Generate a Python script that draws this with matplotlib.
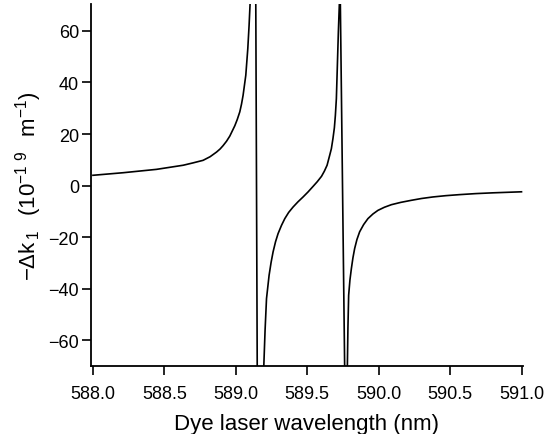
import matplotlib
matplotlib.use("Agg")
import matplotlib.pyplot as plt

# Dispersion curve across the two resonance lines (values beyond +-70 run off the plot)
wavelength_nm = [588.00, 588.212, 588.445, 588.632, 588.700, 588.771, 588.820, 588.865,
                 588.890, 588.911, 588.935, 588.958, 588.993, 589.010, 589.028, 589.040,
                 589.051, 589.070, 589.084, 589.093, 589.100,
                 589.120, 589.140, 589.150, 589.172,
                 589.196, 589.205, 589.215, 589.233, 589.247, 589.261, 589.278, 589.296,
                 589.320, 589.343, 589.370, 589.401, 589.435, 589.471, 589.505, 589.541,
                 589.570, 589.600, 589.620, 589.639, 589.657, 589.669, 589.680, 589.690,
                 589.697, 589.704, 589.711, 589.718, 589.725,
                 589.728, 589.732, 589.762, 589.772,
                 589.781, 589.785, 589.790, 589.799, 589.809, 589.820, 589.832, 589.848,
                 589.867, 589.895, 589.925, 589.960, 589.995, 590.040, 590.089, 590.155,
                 590.229, 590.300, 590.380, 590.470, 590.566, 590.680, 590.800, 590.900,
                 591.000]
delta_k = [4.0, 5.0, 6.3, 7.9, 8.8, 9.8, 11.2, 13.0,
           14.2, 15.5, 17.2, 19.2, 23.2, 25.6, 28.6, 31.6,
           35.0, 42.8, 53.1, 62.1, 70.5,
           110.0, 70.0, -70.0, -110.0,
           -70.0, -56.0, -43.8, -34.8, -29.8, -25.7, -21.8, -18.6,
           -15.4, -12.8, -10.4, -8.3, -6.3, -4.4, -2.5, -0.3,
           1.5, 3.6, 5.6, 7.9, 11.7, 14.3, 18.2, 22.4,
           27.2, 33.7, 46.6, 59.6, 70.5,
           95.0, 70.0, -70.0, -110.0,
           -70.0, -55.0, -42.5, -36.6, -32.2, -28.0, -24.4, -20.9,
           -17.9, -15.1, -12.8, -11.0, -9.6, -8.4, -7.4, -6.5,
           -5.7, -5.0, -4.4, -3.9, -3.5, -3.1, -2.8, -2.6,
           -2.4]

x_ticks = [588.0, 588.5, 589.0, 589.5, 590.0, 590.5, 591.0]
y_ticks = [-60, -40, -20, 0, 20, 40, 60]

plt.rcParams['font.family'] = ['Liberation Sans', 'DejaVu Sans']
plt.rcParams['mathtext.default'] = 'regular'

fig = plt.figure(figsize=(5.47, 4.35), dpi=100)
ax = fig.add_axes([0.166, 0.156, 0.790, 0.833])

ax.plot(wavelength_nm, delta_k, color='black', linewidth=1.2)

ax.set_xlim(587.985, 591.01)
ax.set_ylim(-70, 70.5)
ax.set_xticks(x_ticks)
ax.set_xticklabels([f'{t:.1f}' for t in x_ticks])
ax.set_yticks(y_ticks)

# only left and bottom axes, ticks pointing outward
ax.spines['top'].set_visible(False)
ax.spines['right'].set_visible(False)
for side in ['left', 'bottom']:
    ax.spines[side].set_linewidth(1.3)
ax.tick_params(direction='out', length=6.5, width=1.2, labelsize=13)
ax.tick_params(axis='x', pad=7)
ax.tick_params(axis='y', pad=2)

ax.set_xlabel('Dye laser wavelength (nm)', fontsize=16, labelpad=8)
ax.set_ylabel(r'$-\Delta k_{\,1}\ \ (10^{-1\ 9}\ \ m^{-1})$', fontsize=16, labelpad=3)

fig.savefig('out.png', dpi=100)
